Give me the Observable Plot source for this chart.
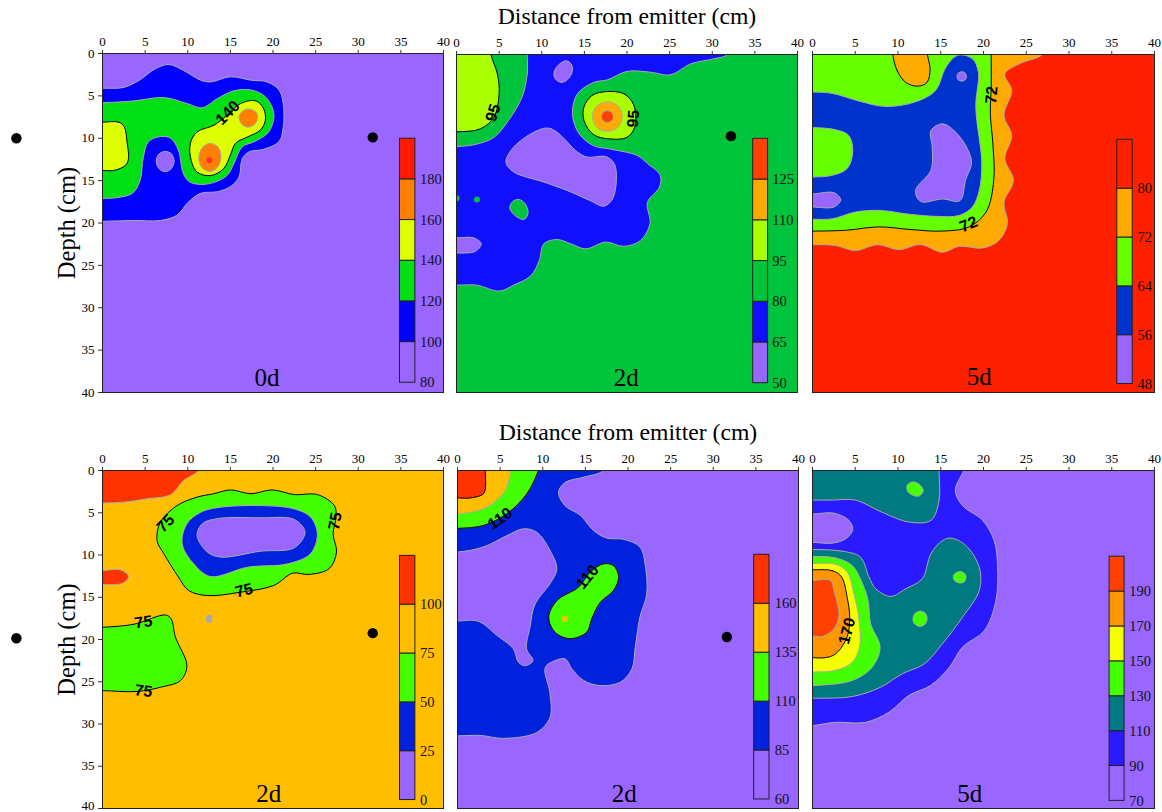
<!DOCTYPE html>
<html><head><meta charset="utf-8">
<script src="https://cdn.jsdelivr.net/npm/d3@7"></script>
<script src="https://cdn.jsdelivr.net/npm/@observablehq/plot@0.6"></script>
<style>
html,body{margin:0;padding:0;background:#fff;width:1162px;height:812px;overflow:hidden}
.p{position:absolute}
svg{overflow:visible;background:transparent!important}
</style></head><body>
<script>
// ---------- contour outlines: [distance cm, depth cm] ----------
const a1Blue=[[0,4.1],[2.5,4],[4.4,3.1],[6.2,1.8],[7.8,1.3],[9.5,2],[11.5,3.15],[12.7,3.35],[15,2.75],[17.4,3.15],[19.3,3.35],[20.7,4.3],[21.2,5.9],[21.2,8.7],[20.7,10.4],[18.9,11.3],[17.2,11.6],[16.4,12.4],[16,14.6],[15,15.7],[13.5,16.3],[11.5,16.5],[10.1,17.5],[8.7,19.1],[6.8,19.7],[3.6,19.7],[0,19.8],[-3,19.8],[-3,4.1]];
const a1Green=[[0,5.8],[3.6,5.6],[7.2,5.2],[9.9,5.9],[11.7,6.4],[13.5,5.3],[15.4,4.4],[17.4,4.3],[19.1,5.1],[20.1,7.1],[19.5,9.25],[17.8,10.4],[16.4,11],[15.4,13],[14.6,14.4],[12.3,15.4],[10.3,15.2],[9.5,14.2],[8.9,11.4],[8,10],[6.8,9.8],[5.4,10.4],[4.8,12.2],[4.4,15],[3.5,16.5],[1.7,17],[0,17.1],[-3,17.1],[-3,5.8]];
const a1Hole=[[7.35,11.55],[8.1,11.85],[8.4,12.75],[8.05,13.6],[7.35,13.95],[6.65,13.6],[6.3,12.75],[6.6,11.9]];
const a1YellowL=[[0,8.1],[1.9,8.1],[2.55,8.65],[2.9,10.6],[3.05,12.4],[2.7,13.2],[1.3,13.8],[0,13.8],[-3,13.8],[-3,8.1]];
const a1Yellow=[[18,5.6],[18.9,6.5],[19.1,7.9],[18.5,9.05],[17,9.85],[15.6,10.6],[15,12],[14.2,13.6],[12.7,14.4],[11.1,14],[10.4,12.6],[10.3,10.6],[11.1,9.25],[13.1,8.45],[14.6,7.3],[16.2,5.9]];
const a1OrangeA=[[17.1,6.55],[18,6.9],[18.2,7.7],[17.8,8.4],[17,8.7],[16.3,8.3],[16,7.5],[16.4,6.8]];
const a1OrangeB=[[12.6,10.6],[13.6,11.1],[13.9,12.3],[13.5,13.4],[12.6,13.95],[11.6,13.4],[11.3,12.3],[11.7,11.1]];

const a2Blue=[[8.3,0],[8.3,2.3],[7.7,5],[6.1,7.8],[4.4,9.8],[2.4,10.6],[0,10.9],[-3,10.9],[-3,27.3],[0,27.3],[2.4,27.3],[5,28],[6.7,27.3],[8.7,26.2],[9.7,24.4],[10.25,22.4],[11.8,21.9],[13.4,22.4],[15.15,23],[17.5,22.2],[19.6,22.7],[21.6,22],[22.7,20],[22.4,17.5],[23.8,15.7],[23.9,14.3],[22.4,12.9],[21.2,11.95],[18.1,11.2],[16.1,10.8],[14.4,9.4],[13.6,7],[14.2,4.65],[16.1,3.3],[17.7,3],[20,2],[22.8,2.1],[25.1,2.4],[27.5,1.1],[30.2,0.5],[31.8,0],[32.5,-2],[8.3,-2]];
const a2YellowL=[[4.05,0],[4.8,2.3],[5,4.65],[4.4,7.4],[2.8,8.8],[0,9.15],[-3,9.15],[-3,-2],[4,-2]];
const a2PurpleBig=[[10.65,8.7],[11.8,9.2],[14.2,11.55],[15.35,12.15],[17.5,12.07],[18.5,12.9],[18.75,14.9],[18.3,17.1],[17.3,17.95],[15.7,17.3],[13,16.1],[10.25,15.1],[6.7,13.9],[5.8,12.75],[6.5,11.2],[8.7,9.4]];
const a2PurpleTop=[[12.9,0.75],[13.5,1.2],[13.55,2.1],[13,3],[12.3,3.3],[11.6,2.9],[11.45,2.1],[12,1.2]];
const a2PurpleLeft=[[0,21.7],[2,21.7],[2.9,22.4],[2.2,23.3],[0,23.5],[-3,23.5],[-3,21.7]];
const a2GreenIsle=[[7.3,17.15],[8,17.6],[8.4,18.7],[8,19.5],[7.4,19.4],[6.6,18.8],[6.25,18.1],[6.6,17.4]];
const a2Yellow=[[17.5,4.4],[19.65,4.65],[20.8,6],[20.9,8.6],[20,9.8],[18.1,10],[16.1,9.5],[14.95,7.8],[14.95,6.2],[15.9,4.85]];
const a2Orange=[[17.7,5.6],[18.95,6.1],[19.45,7.35],[18.95,8.6],[17.7,9.1],[16.45,8.6],[15.95,7.35],[16.45,6.1]];
const a2Red=[[17.7,6.65],[18.2,6.85],[18.4,7.35],[18.2,7.85],[17.7,8.05],[17.2,7.85],[17,7.35],[17.2,6.85]];

const a3Orange=[[26.9,0],[24.2,1.1],[22.5,2.3],[23.3,4.25],[22.4,7.2],[23.3,9.6],[22.5,12.35],[23.5,14.9],[22.4,17.5],[22.8,20],[21.8,22],[19.9,22.9],[17.15,22.7],[15.2,23.4],[12.65,22.5],[10.1,23.1],[7.6,22.5],[5,23.2],[2.7,22.6],[0,22.5],[-3,22.5],[-3,-2],[28,-2]];
const a3Green=[[20.9,0],[20.9,3.9],[20.8,7],[21.1,10.6],[21.2,14.9],[20.3,18.65],[18.3,20.4],[15.2,20.9],[11.3,20.7],[7.8,20.4],[3.9,20.8],[0,20.9],[-3,20.9],[-3,-2],[20.9,-2]];
const a3OrangeTop=[[9.4,0],[9.9,1.9],[10.9,3.3],[12.3,3.75],[13.4,3.3],[13.75,1.7],[13.45,0],[13.45,-2],[9.4,-2]];
const a3Blue=[[0,4.45],[2.3,4.6],[5.4,5.5],[8.55,6.15],[12.05,5.6],[14.4,4.25],[15.6,1.5],[17,0.1],[18.7,0.5],[19.4,2.1],[19.1,6.2],[19.8,12.9],[19.5,16.1],[18.7,18.05],[17.15,19.05],[14.4,19.15],[11.3,18.9],[7.8,18.45],[5,18.65],[2.3,19.45],[0,19.5],[-3,19.5],[-3,4.45]];
const a3GreenIn=[[0,8.65],[2.7,8.9],[4.25,9.6],[4.7,11.55],[4.05,13.5],[2.3,14.3],[0,14.5],[-3,14.5],[-3,8.65]];
const a3PurpleMid=[[13.85,9],[15.2,8.2],[16.55,9],[17.9,10.75],[18.6,12.75],[17.9,14.9],[17.25,17.3],[15.2,17.1],[12.65,17.4],[12.05,16.1],[13.85,13.7],[14,11]];
const a3PurpleLeft=[[0,16.5],[2.5,16.35],[3.3,17.2],[2.5,18.05],[0,18.05],[-3,18.05],[-3,16.5]];
const a3PurpleTop=[[17.45,2.05],[17.85,2.2],[18,2.6],[17.85,3],[17.45,3.15],[17.05,3],[16.9,2.6],[17.05,2.2]];

const b1Red=[[11.3,0],[9.5,1.2],[8,2.85],[5.2,3.35],[2.5,3.75],[0,3.85],[-3,3.85],[-3,-2],[12.5,-2]];
const b1RedSmall=[[0,11.85],[2.1,11.75],[3.05,12.55],[2.3,13.35],[0,13.5],[-3,13.5],[-3,11.85]];
const b1Green=[[15,2.3],[17.4,2.75],[19.9,2.3],[22.5,2.85],[25.2,2.85],[27.2,4.15],[27.4,5.5],[27.05,7.5],[27.45,9.65],[26.6,11.6],[24.2,12.3],[22.3,12.15],[20.1,13.6],[16.2,14.4],[12.3,14.8],[10.1,14.2],[8.9,12.6],[7.2,9.85],[6.4,8.3],[6.8,6.1],[8.75,4.15],[11.1,3.15],[13.05,2.75]];
const b1Blue=[[13.45,4.4],[18.55,4.15],[22.5,4.55],[24.4,5.5],[25.2,7.5],[24.4,9.85],[21.7,11.05],[17,11.45],[12.65,12.55],[10.7,11.05],[9.35,8.7],[9.9,6.3],[11.5,4.95]];
const b1Purple=[[13.45,5.7],[18.55,5.6],[22.5,5.8],[23.75,7.3],[22.5,9.15],[18.55,9.55],[13.85,10.25],[12.3,9.65],[11.1,7.7],[11.7,6.3]];
const b1GreenLow=[[0,18.55],[3.65,18.2],[7.4,17.1],[8.05,17.55],[8.55,19.7],[9.9,23.1],[9.15,24.85],[6.8,25.65],[4.05,26.15],[0,26.05],[-3,26.05],[-3,18.55]];

const b2Blue=[[17.1,0],[14.8,0.8],[12.65,1.4],[11.85,2.55],[12.6,4.15],[14.4,5.3],[15.95,7.1],[17.5,8],[19.5,8.15],[21.4,9.05],[22,11.05],[22.2,14.6],[21.4,17.35],[20.85,20.9],[20.45,23.5],[19.1,25.05],[16.75,25.45],[14.8,24.85],[13.4,23.45],[12.65,22.3],[11.45,22.5],[10.3,23.3],[10.85,26.4],[10.85,29.2],[9.3,31],[5.4,31.7],[2.65,31.35],[0,31.4],[-3,31.4],[-3,-2],[18,-2]];
const b2PurpleIsle=[[0,9.65],[3.05,9.05],[5.8,7.7],[7.75,6.9],[9.3,7.3],[10.85,9.45],[11.65,11.65],[10.85,13.4],[9.1,15.8],[8.5,18.55],[8.1,21.1],[8.85,22.5],[7.95,23.1],[7.15,22.7],[6.55,21.1],[4.6,19.5],[2.45,17.85],[0,17.8],[-3,17.8],[-3,9.65]];
const b2GreenTL=[[9.5,0],[8.15,2.75],[5.8,5.1],[3.05,6.5],[0,6.85],[-3,6.85],[-3,-2],[10.2,-2]];
const b2OrangeTL=[[6.25,0],[5.6,2.35],[3.45,4.35],[0,5.15],[-3,5.15],[-3,-2],[6.6,-2]];
const b2RedTL=[[3.25,0],[3.3,1.6],[3.05,2.75],[1.5,3.25],[0,3.25],[-3,3.25],[-3,-2],[3.25,-2]];
const b2GreenMid=[[17.1,11.05],[18.3,11.25],[18.9,12.6],[18.3,14.2],[16.75,15.6],[15.75,17.55],[15.15,19.15],[13.2,19.9],[11.45,19.15],[10.7,17.35],[11.65,15.4],[14.2,13.8],[15.55,12.05]];

const b3Blue=[[17.7,0],[16.7,2.35],[17.55,4.15],[19.9,5.9],[21.25,8.3],[21.65,11.45],[21.45,15.4],[20.1,18.95],[17.55,20.9],[16,23.3],[13.8,25.45],[11.3,26.6],[8.95,28.6],[6.2,29.8],[2.7,29.8],[0,30.2],[-3,30.4],[-3,-2],[18.5,-2]];
const b3TealTop=[[14.8,0],[14.8,3.55],[13.85,5.9],[11.3,6.1],[8.15,4.95],[5,3.5],[2.3,3.5],[0,3.5],[-3,3.5],[-3,-2],[14.8,-2]];
const b3PurpleIsle=[[0,5.15],[2.5,5.05],[4.25,5.9],[4.7,7],[3.85,8.1],[2.3,8.6],[0,8.5],[-3,8.5],[-3,5.15]];
const b3Teal=[[0,9.35],[3.5,9.55],[5.6,10.25],[6.6,12.6],[7.4,14],[9.15,14.9],[10.9,14],[12.85,12.8],[13.85,9.85],[15.2,8.3],[16.2,8],[17.95,8.9],[19.5,11.45],[19.5,14.2],[17.55,17.35],[15.2,20.5],[13.05,22.9],[10.5,24.05],[7.95,25.65],[4.65,26.75],[0,26.95],[-3,26.95],[-3,9.35]];
const b3Green=[[0,10.15],[2.7,10.35],[4.65,11.25],[5.85,13.4],[6.5,15.4],[6.8,18.15],[7.9,20.9],[7,23.25],[4.65,24.85],[0,25.45],[-3,25.45],[-3,10.15]];
const b3Yellow=[[0,11],[2.7,11.1],[4.05,12],[4.85,14.6],[5.45,17.75],[5.5,20.9],[4.65,22.7],[2.7,23.65],[0,23.85],[-3,23.85],[-3,11]];
const b3Orange=[[0,11.75],[2.3,11.85],[3.4,12.6],[4.05,15],[4.35,17.35],[4.05,19.7],[2.7,21.7],[1.5,22.15],[0,22.15],[-3,22.15],[-3,11.75]];
const b3Red=[[0,13],[2.1,13],[2.5,14.2],[3.1,17.15],[2.5,18.75],[1.15,19.65],[0,19.6],[-3,19.6],[-3,13]];
const b3SpotA=[[11.8,1.35],[12.6,1.75],[12.95,2.4],[12.5,3],[11.8,2.95],[11.1,2.4],[11.1,1.7]];
const b3SpotB=[[17.2,11.95],[17.8,12.2],[17.95,12.65],[17.7,13.2],[17.15,13.3],[16.6,13],[16.5,12.4]];
const b3SpotC=[[12.6,16.65],[13.2,16.9],[13.4,17.55],[13.1,18.25],[12.5,18.45],[11.9,18.1],[11.75,17.5],[12,16.9]];

// ---------- legend levels ----------
const a1Levels=[80,100,120,140,160,180];
const a2Levels=[50,65,80,95,110,125];
const a3Levels=[48,56,64,72,80];
const b1Levels=[0,25,50,75,100];
const b2Levels=[60,85,110,135,160];
const b3Levels=[70,90,110,130,150,170,190];

// ---------- contour labels ----------
const a1Labels=[{x:14.7,y:7,t:"140",r:-45}];
const a2Labels=[{x:4.3,y:6.9,t:"95",r:-72},{x:20.75,y:7.6,t:"95",r:-85}];
const a3Labels=[{x:20.95,y:4.8,t:"72",r:-85},{x:18.25,y:20.1,t:"72",r:-22}];
const b1Labels2=[{x:7.4,y:6.25,t:"75",r:-45},{x:27.3,y:6,t:"75",r:-80},{x:16.6,y:14.2,t:"75",r:-14},{x:4.8,y:17.95,t:"75",r:-8},{x:4.8,y:26.1,t:"75",r:8}];
const b2Labels2=[{x:5,y:5.7,t:"110",r:-35},{x:15.25,y:12.6,t:"110",r:-50}];
const b3Labels2=[{x:4.05,y:19,t:"170",r:-75}];

// ---------- emitter dots ----------
const a1Dots=[[-10.1,10],[31.7,9.9]];
const a2Dots=[[32.2,9.66]];
const b1Dots=[[-10.1,19.85],[31.7,19.25]];
const b2Dots=[[31.6,19.7]];

const gray="#aaaaaa", ink="#000000", purple="#9966ff";
const Y="Depth (cm)", X="Distance from emitter (cm)";

const panels=[
 {left:0,top:0,mL:102,mT:53,w:446,mR:3,bg:purple,day:"0d",dayAt:[19.3,38.3],yAxis:true,lastDy:0,
  bar:[34.9,36.7,10.05,38.85],labX:37.25,levels:a1Levels,barColors:[purple,"#0000ff","#00e014","#ddff00","#ff8000","#ff1a00"],
  dots:a1Dots,labels:a1Labels,specks:[[12.55,12.6,0.8,"#ff3030"]],
  shapes:[[a1Blue,"#0000ff",gray],[a1Hole,purple,gray],[a1Green,"#00e014",gray],[a1YellowL,"#ddff00",ink],[a1Yellow,"#ddff00",ink],[a1OrangeA,"#ff8000",gray],[a1OrangeB,"#ff8000",gray]]},
 {left:450,top:0,mL:6,mT:54,w:352,mR:5,bg:"#00c43c",day:"2d",dayAt:[19.9,38.3],title:X,
  bar:[34.8,36.55,9.98,38.9],labX:37.05,levels:a2Levels,barColors:[purple,"#1010ff","#00c43c","#aaff00","#ffaa00","#ff4000"],
  dots:a2Dots,labels:a2Labels,specks:[[0,17,2,"#00c43c"],[2.4,17.15,2,"#00c43c"]],
  shapes:[[a2Blue,"#1010ff",gray],[a2YellowL,"#aaff00",ink],[a2PurpleBig,purple,gray],[a2PurpleTop,purple,gray],[a2PurpleLeft,purple,gray],[a2GreenIsle,"#00c43c",gray],[a2Yellow,"#aaff00",ink],[a2Orange,"#ffaa00",gray],[a2Red,"#ff4000",gray]]},
 {left:806,top:0,mL:6,mT:54,w:356,mR:8,bg:"#ff2000",day:"5d",dayAt:[19.5,38.2],
  bar:[35.65,37.45,10.1,39],labX:38,levels:a3Levels,barColors:[purple,"#0033cc","#66ff00","#ffaa00","#ff2000"],
  dots:[],labels:a3Labels,specks:[],
  shapes:[[a3Orange,"#ffaa00",gray],[a3Green,"#66ff00",ink],[a3OrangeTop,"#ffaa00",ink],[a3Blue,"#0033cc",gray],[a3GreenIn,"#66ff00",gray],[a3PurpleMid,purple,gray],[a3PurpleLeft,purple,gray],[a3PurpleTop,purple,gray]]},
 {left:0,top:416,mL:102,mT:54,w:446,mR:3,bg:"#ffbf00",day:"2d",dayAt:[19.5,38.25],yAxis:true,lastDy:-3,
  bar:[34.9,36.7,10.1,39],labX:37.25,levels:b1Levels,barColors:[purple,"#0022dd","#44ff00","#ffbf00","#ff3300"],
  dots:b1Dots,labels:b1Labels2,specks:[[12.5,17.4,0.7,"#aaaaaa"],[12.5,17.7,0.7,"#aaaaaa"]],
  shapes:[[b1Red,"#ff3300",gray],[b1RedSmall,"#ff3300",gray],[b1Green,"#44ff00",ink],[b1Blue,"#0022dd",gray],[b1Purple,purple,gray],[b1GreenLow,"#44ff00",ink]]},
 {left:450,top:416,mL:7,mT:54,w:352,mR:4,bg:purple,day:"2d",dayAt:[19.55,38.25],title:X,
  bar:[34.8,36.6,9.98,38.93],labX:37.2,levels:b2Levels,barColors:[purple,"#0022dd","#44ff00","#ffbf00","#ff3300"],
  dots:b2Dots,labels:b2Labels2,specks:[[12.6,17.55,2.2,"#ffbf00"]],
  shapes:[[b2Blue,"#0022dd",gray],[b2PurpleIsle,purple,gray],[b2GreenTL,"#44ff00",ink],[b2OrangeTL,"#ffbf00",gray],[b2RedTL,"#ff3300",ink],[b2GreenMid,"#44ff00",ink]]},
 {left:806,top:416,mL:6,mT:54,w:356,mR:8,bg:purple,day:"5d",dayAt:[18.4,38.25],
  bar:[34.75,36.5,10.2,39.1],labX:37.05,levels:b3Levels,barColors:[purple,"#2a1aff","#007a80","#44ff00","#f5ff00","#ff9500","#ff4000"],
  dots:[],labels:b3Labels2,specks:[],
  shapes:[[b3Blue,"#2a1aff",gray],[b3TealTop,"#007a80",gray],[b3PurpleIsle,purple,gray],[b3Teal,"#007a80",gray],[b3Green,"#44ff00",gray],[b3Yellow,"#f5ff00",gray],[b3Orange,"#ff9500",ink],[b3Red,"#ff4000",gray],[b3SpotA,"#44ff00",gray],[b3SpotB,"#44ff00",gray],[b3SpotC,"#44ff00",gray]]}
];

const ticks=d3.range(0,41,5);
panels.forEach(p=>{
  const [bx1,bx2,by1,by2]=p.bar;
  const n=p.barColors.length;
  const bs=d3.scaleLinear().domain([0,n]).range([by2,by1]);
  const segs=p.barColors.map((c,i)=>({c,y1:bs(i+1),y2:bs(i)}));
  const labs=p.levels.map((v,i)=>({v,y:bs(i)}));
  const marks=[
    Plot.rect([0],{x1:0,x2:40,y1:0,y2:40,fill:p.bg}),
    ...p.shapes.map(([pts,fill,stroke])=>Plot.line(pts,{x:d=>d[0],y:d=>d[1],fill,stroke,strokeWidth:1,curve:"catmull-rom-closed",clip:true})),
    Plot.dot(p.specks,{x:d=>d[0],y:d=>d[1],r:d=>d[2],fill:d=>d[3],stroke:"none",clip:true}),
    Plot.text(p.labels,{x:"x",y:"y",text:"t",rotate:"r",fontFamily:"Liberation Sans",fontWeight:"bold",fontSize:16,fill:"#000"}),
    Plot.rect(segs,{x1:bx1,x2:bx2,y1:"y1",y2:"y2",fill:"c",stroke:"#222",strokeWidth:1}),
    Plot.text(labs,{x:p.labX,y:"y",text:d=>String(d.v),textAnchor:"start",fontSize:14.5,fill:"#111"}),
    Plot.text([p.day],{x:p.dayAt[0],y:p.dayAt[1],text:d=>d,fontSize:25,fill:"#000"}),
    Plot.dot(p.dots,{x:d=>d[0],y:d=>d[1],r:5.2,fill:"#000",stroke:"none"}),
    Plot.frame({stroke:"#222",strokeWidth:1}),
    Plot.axisX({anchor:"top",ticks,tickSize:4,tickPadding:4,label:null,tickFormat:d=>String(d),fontSize:13,stroke:"#333"})
  ];
  if(p.yAxis){
    marks.push(Plot.axisY({anchor:"left",ticks:ticks.slice(0,-1),tickSize:4,tickPadding:4,label:null,tickFormat:d=>String(d),fontSize:13,stroke:"#333"}));
    marks.push(Plot.axisY({anchor:"left",ticks:[40],tickSize:4,text:null,label:null,stroke:"#333"}));
    marks.push(Plot.text([40],{x:0,y:40,text:d=>String(d),dx:-8,dy:p.lastDy,textAnchor:"end",fontSize:13,fill:"#000"}));
    marks.push(Plot.text([Y],{frameAnchor:"left",dx:-35,rotate:-90,textAnchor:"middle",lineAnchor:"middle",fontSize:24.5,fill:"#000",text:d=>d}));
  }
  if(p.title) marks.push(Plot.text([p.title],{frameAnchor:"top",lineAnchor:"middle",dy:-38,fontSize:23.7,fill:"#000",text:d=>d}));
  const svg=Plot.plot({
    width:p.w,height:396,marginLeft:p.mL,marginRight:p.mR,marginTop:p.mT,marginBottom:4,
    x:{domain:[0,40],axis:null},y:{domain:[40,0],axis:null},
    style:{fontFamily:"'Liberation Serif'",background:"transparent",overflow:"visible"},
    marks
  });
  const d=document.createElement("div");
  d.className="p";d.style.left=p.left+"px";d.style.top=p.top+"px";
  d.appendChild(svg);document.body.appendChild(d);
});
</script>
</body></html>
